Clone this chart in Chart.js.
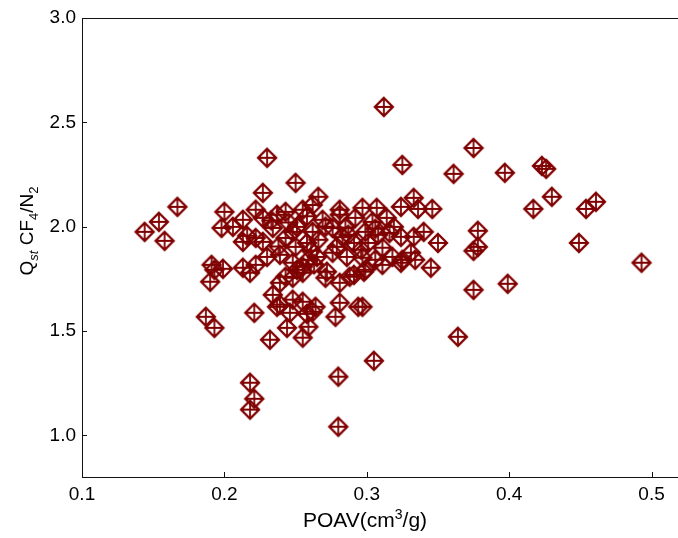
<!DOCTYPE html>
<html>
<head>
<meta charset="utf-8">
<script src="https://cdn.jsdelivr.net/npm/chart.js@4"></script>
<style>
  html, body { margin: 0; padding: 0; background: #fff; overflow: hidden; }
  canvas { display: block; }
</style>
</head>
<body>
<canvas id="chart" width="700" height="538" style="width:700px;height:538px"></canvas>
<script>
// POAV (cm3/g) vs Qst CF4/N2
const poav = [
  0.144, 0.154, 0.158, 0.167, 0.200, 0.198, 0.206, 0.191, 0.193, 0.190,
  0.199, 0.187, 0.193, 0.227, 0.230, 0.250, 0.222, 0.213, 0.216, 0.227,
  0.237, 0.243, 0.234, 0.227, 0.222, 0.243, 0.248, 0.230, 0.239, 0.248,
  0.213, 0.222, 0.243, 0.251, 0.218, 0.239, 0.248, 0.234, 0.239, 0.246,
  0.221, 0.244, 0.232, 0.218, 0.221, 0.218, 0.213, 0.237, 0.248, 0.325,
  0.266, 0.262, 0.255, 0.281, 0.297, 0.307, 0.324, 0.269, 0.281, 0.292,
  0.304, 0.314, 0.319, 0.251, 0.262, 0.276, 0.287, 0.299, 0.308, 0.324,
  0.250, 0.258, 0.266, 0.279, 0.291, 0.301, 0.311, 0.276, 0.259, 0.286,
  0.297, 0.306, 0.318, 0.325, 0.255, 0.272, 0.299, 0.311, 0.288, 0.324,
  0.255, 0.271, 0.281, 0.291, 0.298, 0.255, 0.264, 0.262, 0.281, 0.278,
  0.297, 0.294, 0.259, 0.255, 0.305, 0.280, 0.280, 0.265, 0.312, 0.375,
  0.361, 0.397, 0.426, 0.423, 0.430, 0.417, 0.454, 0.461, 0.449, 0.493,
  0.378, 0.378, 0.375, 0.375, 0.399, 0.333, 0.336, 0.346, 0.333, 0.340,
  0.350, 0.331, 0.334, 0.345, 0.364, 0.258,
  0.245, 0.258, 0.271, 0.285, 0.306, 0.316, 0.261, 0.283, 0.296, 0.238,
  0.233, 0.263
];
const qst = [
  1.975, 2.023, 1.932, 2.095, 2.071, 1.994, 1.999, 1.817, 1.793, 1.736,
  1.798, 1.568, 1.515, 2.162, 2.330, 2.210, 2.081, 2.033, 1.956, 2.042,
  2.057, 2.071, 1.994, 1.927, 1.946, 1.946, 1.975, 1.855, 1.865, 1.827,
  1.803, 1.817, 1.760, 1.793, 1.779, 1.731, 1.755, 1.673, 1.626, 1.587,
  1.587, 1.515, 1.458, 1.252, 1.175, 1.123, 1.927, 1.616, 1.650, 2.296,
  2.143, 2.104, 2.081, 2.081, 2.090, 2.090, 2.095, 2.033, 2.057, 2.042,
  2.023, 2.042, 1.999, 1.999, 1.975, 1.994, 1.961, 1.975, 1.961, 1.951,
  1.903, 1.922, 1.937, 1.903, 1.922, 1.922, 1.899, 1.875, 1.841, 1.855,
  1.851, 1.841, 1.855, 1.841, 1.808, 1.784, 1.793, 1.817, 1.760, 1.827,
  1.779, 1.755, 1.731, 1.769, 1.784, 1.640, 1.616, 1.592, 1.635, 1.568,
  1.616, 1.616, 1.520, 1.468, 1.357, 1.281, 1.041, 1.855, 2.574, 2.377,
  2.253, 2.258, 2.277, 2.291, 2.143, 2.085, 2.085, 2.119, 1.922, 1.827,
  1.980, 1.903, 1.884, 1.697, 1.726, 2.138, 2.085, 2.085, 1.951, 1.975,
  1.922, 1.875, 1.841, 1.803, 1.472, 1.582,
  2.020, 2.050, 2.000, 1.995, 1.990, 1.970, 1.885, 1.950, 1.890, 1.905,
  2.030, 1.820
];
const xTicks = [0.1, 0.2, 0.3, 0.4, 0.5];
const yTicks = [1.0, 1.5, 2.0, 2.5, 3.0];

const RED = '#800000';
const FONT = '"Liberation Sans", Arial, sans-serif';

// diamond with a plus inside
function makeMarker() {
  const s = 24, m = s / 2, r = 9;
  const c = document.createElement('canvas');
  c.width = s; c.height = s;
  const g = c.getContext('2d');
  g.strokeStyle = RED;
  g.lineWidth = 2.3;
  g.beginPath();
  g.moveTo(m, m - r); g.lineTo(m + r, m); g.lineTo(m, m + r); g.lineTo(m - r, m);
  g.closePath();
  g.stroke();
  g.lineWidth = 1.8;
  g.beginPath();
  g.moveTo(m, m - r); g.lineTo(m, m + r);
  g.moveTo(m - r, m); g.lineTo(m + r, m);
  g.stroke();
  return c;
}

// box, inward ticks and axis titles
const framePlugin = {
  id: 'frame',
  afterDraw(chart) {
    const { ctx, chartArea: a, scales: { x, y } } = chart;
    ctx.save();
    ctx.strokeStyle = '#111';
    ctx.lineWidth = 1;
    ctx.strokeRect(a.left + 0.5, a.top + 0.5, a.right - a.left, a.bottom - a.top);
    ctx.beginPath();
    x.ticks.forEach(t => {
      const px = Math.round(x.getPixelForValue(t.value)) + 0.5;
      ctx.moveTo(px, a.bottom); ctx.lineTo(px, a.bottom - 5);
    });
    y.ticks.forEach(t => {
      const py = Math.round(y.getPixelForValue(t.value)) + 0.5;
      ctx.moveTo(a.left, py); ctx.lineTo(a.left + 5, py);
    });
    ctx.stroke();

    ctx.fillStyle = '#000';
    ctx.textBaseline = 'alphabetic';
    ctx.textAlign = 'left';

    // x title: POAV(cm3/g)
    const big = '21px ' + FONT, small = '14px ' + FONT;
    let cx = 303;
    const by = 527;
    ctx.font = big; ctx.fillText('POAV(cm', cx, by); cx += ctx.measureText('POAV(cm').width;
    ctx.font = small; ctx.fillText('3', cx, by - 8); cx += ctx.measureText('3').width;
    ctx.font = big; ctx.fillText('/g)', cx, by);

    // y title: Q_st CF_4/N_2
    const parts = [
      ['Q', '19px ' + FONT, 0],
      ['st', 'italic 13px ' + FONT, 5],
      [' CF', '19px ' + FONT, 0],
      ['4', '13px ' + FONT, 5],
      ['/N', '19px ' + FONT, 0],
      ['2', '13px ' + FONT, 5]
    ];
    let total = 0;
    parts.forEach(p => { ctx.font = p[1]; total += ctx.measureText(p[0]).width; });
    ctx.translate(33, 231);
    ctx.rotate(-Math.PI / 2);
    let u = -total / 2;
    parts.forEach(p => {
      ctx.font = p[1];
      ctx.fillText(p[0], u, p[2]);
      u += ctx.measureText(p[0]).width;
    });
    ctx.restore();
  }
};

const points = poav.map((v, i) => ({ x: v, y: qst[i] }));

new Chart(document.getElementById('chart'), {
  type: 'scatter',
  data: {
    datasets: [{
      data: points,
      pointStyle: makeMarker(),
      pointRadius: 10,
      pointHoverRadius: 10
    }]
  },
  options: {
    responsive: false,
    animation: false,
    devicePixelRatio: 1,
    layout: { padding: { top: 18, right: 20, left: 0, bottom: 0 } },
    plugins: { legend: { display: false }, tooltip: { enabled: false } },
    scales: {
      x: {
        type: 'linear',
        min: 0.1,
        max: 0.52,
        afterBuildTicks: s => { s.ticks = xTicks.map(v => ({ value: v })); },
        afterFit: s => { s.height = 61; },
        grid: { display: false, drawTicks: false },
        border: { display: false },
        ticks: {
          autoSkip: false, maxRotation: 0, padding: 6, color: '#000',
          font: { family: FONT, size: 19 },
          callback: v => v.toFixed(1)
        }
      },
      y: {
        type: 'linear',
        min: 0.8,
        max: 3.0,
        afterBuildTicks: s => { s.ticks = yTicks.map(v => ({ value: v })); },
        afterFit: s => { s.width = 82; },
        grid: { display: false, drawTicks: false },
        border: { display: false },
        ticks: {
          autoSkip: false, padding: 6, color: '#000',
          font: { family: FONT, size: 19 },
          callback: v => v.toFixed(1)
        }
      }
    }
  },
  plugins: [framePlugin]
});
</script>
</body>
</html>
